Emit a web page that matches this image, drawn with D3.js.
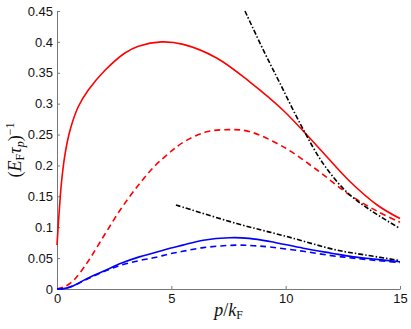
<!DOCTYPE html>
<html>
<head>
<meta charset="utf-8">
<script src="https://cdn.jsdelivr.net/npm/d3@7"></script>
<style>
  body { margin: 0; background: #fff; }
  svg { display: block; }
  .tick text { font-family: "Liberation Sans", Arial, sans-serif; font-size: 13px; fill: #111; }
  .axis path, .axis line { stroke: #777; }
  .label { font-family: "Liberation Serif", "DejaVu Serif", serif; fill: #111; }
</style>
</head>
<body>
<div id="chart"></div>
<script>
// values
const redSolidP = [0, 0.09, 0.2, 0.35, 0.57, 0.93, 1.37, 2.1, 2.97, 3.56, 4.58, 5.52, 6.98, 8.44, 9.9, 11.36, 12.81, 14.0, 15];
const redSolidY = [0.071, 0.122, 0.174, 0.218, 0.257, 0.295, 0.322, 0.354, 0.382, 0.393, 0.400, 0.396, 0.374, 0.335, 0.289, 0.232, 0.174, 0.136, 0.114];

const redDashP = [0, 0.35, 0.7, 1.0, 1.4, 2.1, 2.8, 3.6, 4.3, 5.0, 5.5, 6.5, 7.5, 8.4, 9.9, 11.36, 12.81, 14.0, 15];
const redDashY = [0, 0.004, 0.013, 0.026, 0.047, 0.089, 0.130, 0.170, 0.200, 0.223, 0.237, 0.254, 0.258, 0.255, 0.230, 0.193, 0.152, 0.126, 0.108];

const blueSolidP = [0, 0.35, 0.7, 1.37, 2.1, 2.83, 3.6, 4.29, 4.94, 5.5, 6.4, 7.56, 8.4, 9.31, 10.77, 12.0, 12.96, 14.0, 15];
const blueSolidY = [0, 0.001, 0.005, 0.018, 0.030, 0.042, 0.052, 0.059, 0.066, 0.071, 0.079, 0.083, 0.082, 0.077, 0.066, 0.058, 0.052, 0.048, 0.044];

const blueDashP = [0, 0.35, 0.7, 1.37, 2.1, 2.83, 3.6, 4.29, 4.94, 5.5, 6.4, 7.86, 8.6, 9.31, 10.77, 12.0, 12.96, 14.0, 15];
const blueDashY = [0, 0.001, 0.005, 0.017, 0.029, 0.039, 0.046, 0.051, 0.057, 0.061, 0.067, 0.071, 0.070, 0.068, 0.061, 0.054, 0.050, 0.046, 0.043];

const blackHighP = [8.22, 9.02, 9.75, 10.7, 11.64, 12.67, 13.69, 15];
const blackHighY = [0.450, 0.387, 0.333, 0.263, 0.203, 0.157, 0.128, 0.098];

const blackLowP = [5.2, 7.86, 10.04, 12.23, 13.5, 15];
const blackLowY = [0.136, 0.106, 0.085, 0.063, 0.055, 0.046];

const xTicks = [0, 5, 10, 15];
const yTicks = [0, 0.05, 0.1, 0.15, 0.2, 0.25, 0.3, 0.35, 0.4, 0.45];

const width = 411;
const height = 329;
const margin = { top: 11, right: 11, bottom: 40, left: 57 };

const svg = d3.select('#chart').append('svg')
  .attr('width', width)
  .attr('height', height);

const x = d3.scaleLinear().domain([0, 15]).range([margin.left, width - margin.right]);
const y = d3.scaleLinear().domain([0, 0.45]).range([height - margin.bottom, margin.top]);

const fmt = d => d === 0 ? '0' : String(+d.toFixed(2));

svg.append('g')
  .attr('class', 'axis')
  .attr('transform', `translate(0,${y(0)})`)
  .call(d3.axisBottom(x).tickValues(xTicks).tickFormat(fmt).tickSizeInner(-3).tickSizeOuter(0).tickPadding(5));

svg.append('g')
  .attr('class', 'axis')
  .attr('transform', `translate(${x(0)},0)`)
  .call(d3.axisLeft(y).tickValues(yTicks).tickFormat(fmt).tickSizeInner(-3).tickSizeOuter(0).tickPadding(4));

const series = [
  { p: redSolidP, v: redSolidY, color: '#ff0000', dash: null },
  { p: redDashP, v: redDashY, color: '#ff0000', dash: '6,4' },
  { p: blueSolidP, v: blueSolidY, color: '#0000ff', dash: null },
  { p: blueDashP, v: blueDashY, color: '#0000ff', dash: '6,4' },
  { p: blackHighP, v: blackHighY, color: '#000', dash: '5,2,1.5,2' },
  { p: blackLowP, v: blackLowY, color: '#000', dash: '5,2,1.5,2' }
];

const line = d3.line()
  .x(d => x(d[0]))
  .y(d => y(d[1]))
  .curve(d3.curveCatmullRom.alpha(0.5));

series.forEach(s => {
  svg.append('path')
    .datum(d3.zip(s.p, s.v))
    .attr('d', line)
    .attr('fill', 'none')
    .attr('stroke', s.color)
    .attr('stroke-width', 1.6)
    .attr('stroke-dasharray', s.dash);
});

// x label: p/k_F
const xl = svg.append('text')
  .attr('class', 'label')
  .attr('x', x(7.5))
  .attr('y', 316)
  .attr('text-anchor', 'middle')
  .style('font-size', '18px');
xl.append('tspan').style('font-style', 'italic').text('p');
xl.append('tspan').text('/');
xl.append('tspan').style('font-style', 'italic').text('k');
xl.append('tspan').attr('dy', 3).style('font-size', '12px').text('F');

// y label: (E_F tau_p)^-1
const yl = svg.append('text')
  .attr('class', 'label')
  .attr('transform', 'translate(21,150) rotate(-90)')
  .attr('text-anchor', 'middle')
  .style('font-size', '18px');
yl.append('tspan').text('(');
yl.append('tspan').style('font-style', 'italic').text('E');
yl.append('tspan').attr('dy', 3).style('font-size', '12px').text('F');
yl.append('tspan').attr('dy', -3).style('font-style', 'italic').text('τ');
yl.append('tspan').attr('dy', 3).style('font-size', '12px').style('font-style', 'italic').text('p');
yl.append('tspan').attr('dy', -3).text(')');
yl.append('tspan').attr('dy', -7).style('font-size', '12px').text('−1');
</script>
</body>
</html>
